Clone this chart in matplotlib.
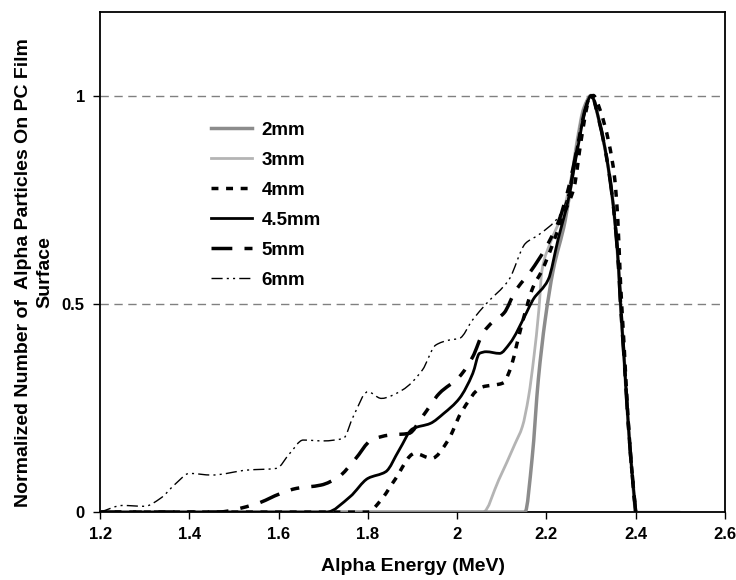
import matplotlib
matplotlib.use('Agg')
import matplotlib.pyplot as plt
import numpy as np
from matplotlib.path import Path
from matplotlib.patches import PathPatch
from matplotlib.lines import Line2D

plt.rcParams['font.family'] = ['Liberation Sans', 'DejaVu Sans']
plt.rcParams['font.weight'] = 'bold'

# --- data (energy in MeV, normalised counts) ---
x2 = [1.2, 2.152, 2.168, 2.182, 2.197, 2.215, 2.242, 2.257, 2.27, 2.285, 2.3,
      2.32, 2.335, 2.346, 2.355, 2.362, 2.366, 2.374, 2.381, 2.389, 2.4]
y2 = [0, 0, 0.13, 0.32, 0.46, 0.58, 0.70, 0.80, 0.89, 0.97, 1.0,
      0.93, 0.85, 0.77, 0.68, 0.58, 0.50, 0.37, 0.25, 0.13, 0]

x3 = [1.2, 2.058, 2.093, 2.13, 2.146, 2.16, 2.172, 2.183, 2.19, 2.21, 2.237,
      2.255, 2.268, 2.283, 2.3, 2.32, 2.335, 2.346, 2.355, 2.362, 2.366,
      2.374, 2.381, 2.389, 2.4, 2.5]
y3 = [0, 0, 0.077, 0.165, 0.205, 0.277, 0.373, 0.485, 0.58, 0.65, 0.72,
      0.80, 0.89, 0.97, 1.0, 0.93, 0.85, 0.77, 0.68, 0.58, 0.50,
      0.37, 0.25, 0.13, 0, 0]

x4 = [1.2, 1.80, 1.83, 1.86, 1.905, 1.943, 1.98, 2.008, 2.055, 2.103, 2.122,
      2.133, 2.155, 2.17, 2.19, 2.24, 2.262, 2.278, 2.293, 2.305, 2.32, 2.34,
      2.353, 2.36, 2.366, 2.374, 2.381, 2.389, 2.4]
y4 = [0, 0, 0.03, 0.077, 0.141, 0.129, 0.173, 0.237, 0.30, 0.31, 0.353,
      0.40, 0.49, 0.54, 0.58, 0.718, 0.78, 0.894, 0.98, 1.0, 0.966, 0.886,
      0.80, 0.70, 0.55, 0.40, 0.26, 0.13, 0]

x45 = [1.2, 1.707, 1.76, 1.80, 1.84, 1.87, 1.90, 1.94, 1.97, 2.005, 2.035,
       2.05, 2.065, 2.095, 2.118, 2.155, 2.17, 2.204, 2.226, 2.249, 2.271,
       2.288, 2.3, 2.32, 2.335, 2.346, 2.355, 2.362, 2.366, 2.374, 2.381,
       2.389, 2.4]
y45 = [0, 0, 0.037, 0.081, 0.097, 0.149, 0.20, 0.213, 0.237, 0.273, 0.333,
       0.381, 0.385, 0.381, 0.405, 0.478, 0.51, 0.558, 0.654, 0.75, 0.878,
       0.97, 1.0, 0.93, 0.85, 0.77, 0.68, 0.58, 0.50, 0.37, 0.25,
       0.13, 0]

x5 = [1.2, 1.461, 1.55, 1.605, 1.64, 1.695, 1.735, 1.77, 1.808, 1.848, 1.892,
      1.922, 1.96, 2.005, 2.035, 2.058, 2.08, 2.105, 2.13, 2.166, 2.196,
      2.228, 2.25, 2.27, 2.288, 2.3, 2.32, 2.335, 2.346, 2.355, 2.362,
      2.366, 2.374, 2.381, 2.389, 2.4]
y5 = [0, 0, 0.02, 0.045, 0.057, 0.065, 0.085, 0.125, 0.173, 0.185, 0.189,
      0.229, 0.285, 0.325, 0.373, 0.43, 0.457, 0.478, 0.53, 0.58, 0.63,
      0.70, 0.78, 0.88, 0.97, 1.0, 0.93, 0.85, 0.77, 0.68, 0.58,
      0.50, 0.37, 0.25, 0.13, 0]

x6 = [1.2, 1.25, 1.3, 1.335, 1.37, 1.40, 1.45, 1.53, 1.595, 1.625, 1.655,
      1.70, 1.745, 1.767, 1.80, 1.83, 1.877, 1.922, 1.952, 1.982, 2.005,
      2.035, 2.065, 2.116, 2.153, 2.183, 2.228, 2.245, 2.258, 2.27, 2.288,
      2.3, 2.32, 2.335, 2.346, 2.355, 2.362, 2.366, 2.374, 2.381, 2.389, 2.4]
y6 = [0, 0.016, 0.014, 0.033, 0.069, 0.093, 0.089, 0.101, 0.105, 0.141, 0.173,
      0.171, 0.177, 0.229, 0.289, 0.273, 0.293, 0.341, 0.401, 0.413, 0.417,
      0.462, 0.50, 0.558, 0.645, 0.666, 0.71, 0.75, 0.82, 0.89, 0.97,
      1.0, 0.93, 0.85, 0.77, 0.68, 0.58, 0.50, 0.37, 0.25, 0.13, 0]

labels = ['2mm', '3mm', '4mm', '4.5mm', '5mm', '6mm']
x_ticks = [1.2, 1.4, 1.6, 1.8, 2.0, 2.2, 2.4, 2.6]
x_tick_labels = ['1.2', '1.4', '1.6', '1.8', '2', '2.2', '2.4', '2.6']
y_ticks = [0, 0.5, 1]
y_tick_labels = ['0', '0.5', '1']


def smooth_path(x, y):
    # monotone cubic (Fritsch-Carlson) through the points, as bezier segments
    x = np.asarray(x, float); y = np.asarray(y, float)
    h = np.diff(x); delta = np.diff(y) / h
    d = np.zeros(len(x))
    d[0] = delta[0]; d[-1] = delta[-1]
    for k in range(1, len(x) - 1):
        if delta[k - 1] * delta[k] > 0:
            w1 = 2 * h[k] + h[k - 1]; w2 = h[k] + 2 * h[k - 1]
            d[k] = (w1 + w2) / (w1 / delta[k - 1] + w2 / delta[k])
    verts = [(x[0], y[0])]; codes = [Path.MOVETO]
    for k in range(len(x) - 1):
        verts += [(x[k] + h[k] / 3, y[k] + d[k] * h[k] / 3),
                  (x[k + 1] - h[k] / 3, y[k + 1] - d[k + 1] * h[k] / 3),
                  (x[k + 1], y[k + 1])]
        codes += [Path.CURVE4] * 3
    return Path(verts, codes)


fig = plt.figure(figsize=(7.36, 5.80), dpi=100)
ax = fig.add_axes([0.136, 0.117, 0.849, 0.862])

# dashed horizontal grid lines
for yv in [0.5, 1.0]:
    ax.axhline(yv, color='#808080', lw=1, ls=(0, (6, 4)), zorder=1)

series = [
    (x2, y2, dict(color='#8c8c8c', lw=2.5, ls='-'), 3),
    (x3, y3, dict(color='#b4b4b4', lw=2, ls='-'), 2),
    (x4, y4, dict(color='black', lw=2.5, ls=(0, (2, 2.2))), 4),
    (x45, y45, dict(color='black', lw=2, ls='-'), 5),
    (x5, y5, dict(color='black', lw=2.5, ls=(0, (6, 3.5, 2.5, 3.5))), 4),
    (x6, y6, dict(color='black', lw=1, ls=(0, (8, 3, 1.5, 3, 1.5, 3))), 4),
]
handles = []
for (xs, ys, st, z), lab in zip(series, labels):
    patch = PathPatch(smooth_path(xs, ys), fill=False, edgecolor=st['color'],
                      lw=st['lw'], linestyle=st['ls'], zorder=z)
    ax.add_patch(patch)
    handles.append(Line2D([], [], color=st['color'], lw=st['lw'], ls=st['ls'], label=lab))

ax.set_xlim(1.2, 2.6)
ax.set_ylim(0, 1.2)
ax.set_xticks(x_ticks)
ax.set_xticklabels(x_tick_labels)
ax.set_yticks(y_ticks)
ax.set_yticklabels(y_tick_labels)
ax.tick_params(axis='both', direction='out', length=5, width=1, labelsize=12, pad=6)
for sp in ax.spines.values():
    sp.set_linewidth(1.3)

ax.set_xlabel('Alpha Energy (MeV)', fontsize=14, fontweight='bold', labelpad=11)
ax.set_ylabel('Normalized Number of  Alpha Particles On PC Film\nSurface',
              fontsize=14, fontweight='bold', linespacing=1.3)
ax.yaxis.set_label_coords(-0.075, 0.48)

leg = ax.legend(handles=handles, loc='upper left', bbox_to_anchor=(0.163, 0.80),
                frameon=False, fontsize=13.5, handlelength=2.15, handletextpad=0.53,
                labelspacing=0.69, borderpad=0)
for t in leg.get_texts():
    t.set_fontweight('bold')

fig.savefig('out.png', dpi=100)
